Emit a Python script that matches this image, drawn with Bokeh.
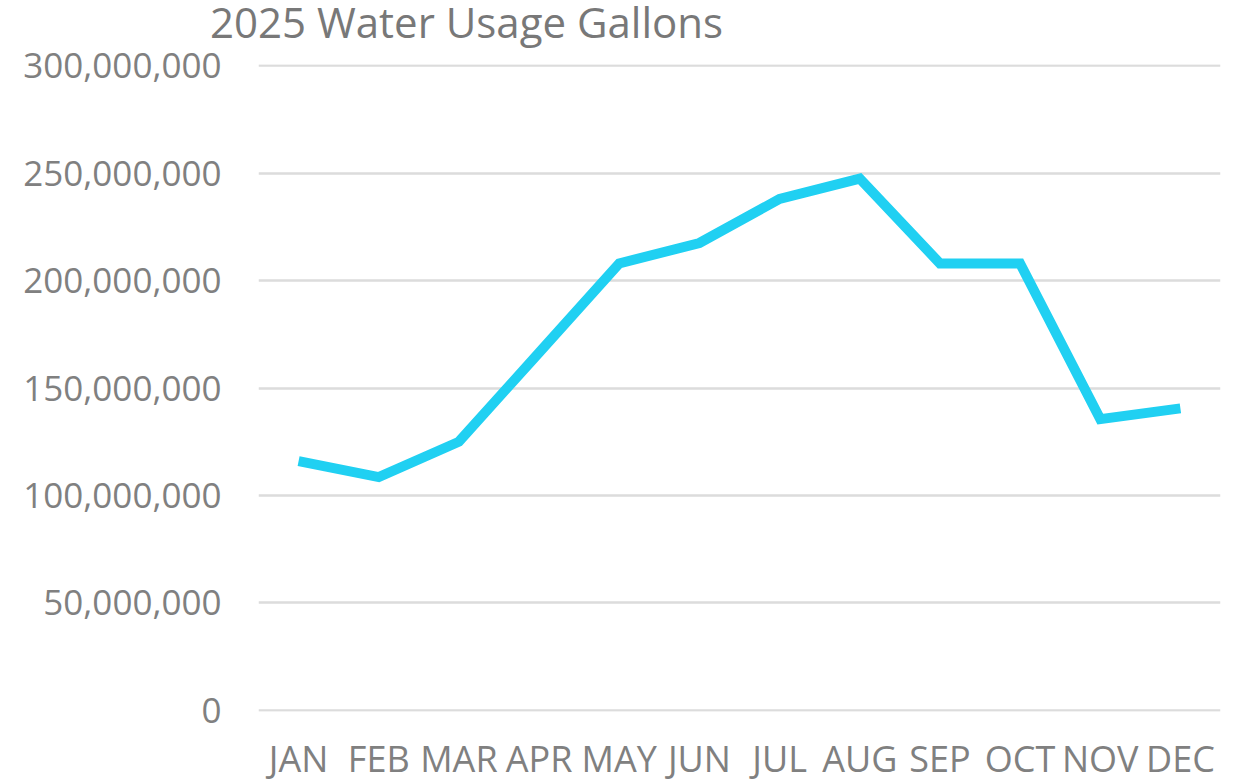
from bokeh.plotting import figure
from bokeh.models import FixedTicker, NumeralTickFormatter, FactorRange, Range1d, Div
from bokeh.layouts import column
from bokeh.embed import file_html
from bokeh.resources import INLINE

months = ["JAN", "FEB", "MAR", "APR", "MAY", "JUN", "JUL", "AUG", "SEP", "OCT", "NOV", "DEC"]
gallons = [116_000_000, 108_500_000, 125_000_000, 166_500_000, 208_000_000, 217_500_000,
           238_000_000, 247_500_000, 208_000_000, 208_000_000, 135_500_000, 140_500_000]
y_ticks = [0, 50_000_000, 100_000_000, 150_000_000, 200_000_000, 250_000_000, 300_000_000]
title_text = "2025 Water Usage Gallons"

FONT = "Open Sans"
GRAY = "#808080"

title_div = Div(
    text=title_text, width=1226, height=48, margin=(0, 0, 0, 0),
    styles={"font-family": FONT, "font-size": "42px", "line-height": "42px",
            "color": "#787878", "padding-left": "210px", "padding-top": "1px",
            "white-space": "nowrap", "overflow": "visible", "box-sizing": "border-box"},
)

p = figure(
    frame_width=962, frame_height=647,
    x_range=FactorRange(factors=months),
    y_range=Range1d(-600_000, 300_600_000),
    output_backend="svg", toolbar_location=None,
    min_border_left=258, min_border_right=6, min_border_top=16, min_border_bottom=20,
    margin=(0, 0, 0, 0),
)

p.line(months, gallons, line_color="#20d0f2", line_width=10, line_join="miter")

p.outline_line_color = None
p.background_fill_color = "white"
p.border_fill_color = None

p.xgrid.grid_line_color = None
p.ygrid.grid_line_color = "#dcdcdc"
p.ygrid.grid_line_width = 2.5

p.yaxis.ticker = FixedTicker(ticks=y_ticks)
p.yaxis.formatter = NumeralTickFormatter(format="0,0")
for ax in (p.xaxis, p.yaxis):
    ax.axis_line_color = None
    ax.major_tick_line_color = None
    ax.minor_tick_line_color = None
    ax.major_label_text_font = FONT
    ax.major_label_text_color = GRAY
p.yaxis.major_label_standoff = 31
p.yaxis.major_label_text_font_size = "35px"
p.xaxis.major_label_text_font_size = "36px"
p.xaxis.major_label_standoff = 16

layout = column(title_div, p, spacing=0)

open("out.html", "w").write(file_html(layout, INLINE))
